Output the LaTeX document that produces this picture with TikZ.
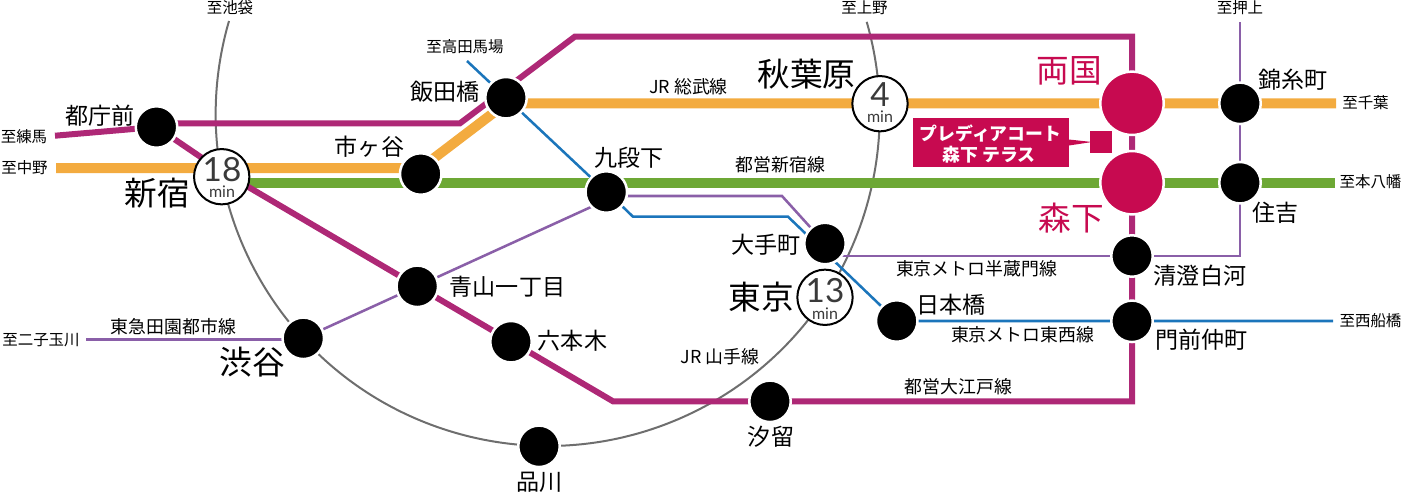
\documentclass[tikz,border=0pt]{standalone}
\usepackage{fontspec}
\setmainfont{Noto Sans CJK JP}
\newfontfamily\numfont{Lato}
\usetikzlibrary{backgrounds}
\definecolor{oedo}{HTML}{AE2876}
\definecolor{sobu}{HTML}{F3AB3F}
\definecolor{shinjuku}{HTML}{6DA835}
\definecolor{hanzo}{HTML}{8A5FA8}
\definecolor{tozai}{HTML}{1B75BB}
\definecolor{yamate}{HTML}{6E6E6E}
\definecolor{accent}{HTML}{C70A50}
\definecolor{numgray}{HTML}{3A3A3A}
\newcommand{\jpsize}[1]{\fontsize{#1}{#1}\selectfont}
\tikzset{
  x=0.75pt,y=-0.75pt,
  station/.style={circle,fill=black,draw=white,line width=1.875pt,minimum size=31.1pt,inner sep=0pt},
  bigstation/.style={circle,fill=accent,draw=white,line width=1.875pt,minimum size=47.5pt,inner sep=0pt},
  timecircle/.style={circle,fill=white,draw=black,line width=1.5pt,minimum size=41.5pt,inner sep=0pt},
  txt/.style={inner sep=0pt,text=black},
  biglbl/.style={txt,font=\jpsize{24.5pt}},
  midlbl/.style={txt,font=\jpsize{17.3pt}},
  linelbl/.style={txt,font=\jpsize{13.4pt}},
  dest/.style={txt,font=\jpsize{11.6pt}},
  numtxt/.style={inner sep=0pt,text=numgray,font=\numfont\jpsize{25pt}},
  mintxt/.style={inner sep=0pt,text=numgray,font=\numfont\jpsize{12pt}},
  oedoline/.style={draw=oedo,line width=4.5pt,line join=miter},
  sobuline/.style={draw=sobu,line width=7.5pt,line join=miter},
  greenline/.style={draw=shinjuku,line width=7.5pt},
  hanzoline/.style={draw=hanzo,line width=1.9pt},
  tozailine/.style={draw=tozai,line width=1.9pt},
  yamateline/.style={draw=yamate,line width=1.5pt},
}
\begin{document}
\begin{tikzpicture}
\useasboundingbox (0,0) rectangle (1403,494);
% stations
\node[station] (tocho) at (156.5,127) {};
\node[station] (ichigaya) at (420.7,174) {};
\node[station] (iidabashi) at (506,97.7) {};
\node[station] (kudan) at (606.3,192) {};
\node[station] (otemachi) at (825,243.5) {};
\node[station] (kinshicho) at (1240,103.3) {};
\node[station] (sumiyoshi) at (1240,182.7) {};
\node[station] (kiyosumi) at (1132,256) {};
\node[station] (monzen) at (1132,321.3) {};
\node[station] (shibuya) at (303.3,338.3) {};
\node[station] (aoyama) at (417.3,286.3) {};
\node[station] (roppongi) at (511,341.7) {};
\node[station] (shiodome) at (770,401.3) {};
\node[station] (shinagawa) at (539,446.3) {};
\node[station] (nihonbashi) at (896.7,321) {};
\node[bigstation] (ryogoku) at (1132,103.3) {};
\node[bigstation] (morishita) at (1132,182.7) {};
\node[timecircle] (shinjukuSt) at (221.7,176.7) {};
\node[timecircle] (akihabara) at (880,103.7) {};
\node[timecircle] (tokyo) at (825,297.3) {};
% free ends and bends
\coordinate (nerimaEnd) at (55,135.7);
\coordinate (nakanoEnd) at (56,168);
\coordinate (sobuTurn) at (421,168);
\coordinate (sobuTurnB) at (506,103.3);
\coordinate (chibaEnd) at (1336,103.3);
\coordinate (yawataEnd) at (1335,182.7);
\coordinate (shinjukuG) at (221.7,182.7);
\coordinate (tochoE) at (156.5,123.3);
\coordinate (oedoA) at (460,123.3);
\coordinate (oedoB) at (575,36.5);
\coordinate (oedoC) at (1132,36.5);
\coordinate (oedoD) at (1132,401.3);
\coordinate (oedoE) at (613,401.3);
\coordinate (oedoS) at (222,171.5);
\coordinate (oshiageEnd) at (1240,22);
\coordinate (hanzoCorner) at (1240,256);
\coordinate (hanzoLeft) at (830,256);
\coordinate (hanzoB) at (782,196);
\coordinate (hanzoC) at (606.3,196);
\coordinate (futakoEnd) at (86,339.7);
\coordinate (shibuyaH) at (303.3,339.7);
\coordinate (kudanP) at (606.3,200);
\coordinate (babaEnd) at (467,61);
\coordinate (tozaiA) at (623,207);
\coordinate (tozaiB) at (633,216.7);
\coordinate (tozaiC) at (788,216.7);
\coordinate (funabashiEnd) at (1333,321);
\coordinate (yamateStart) at (229,21);
% lines
\begin{scope}[on background layer]
  \path[yamateline] (yamateStart) arc[start angle=196.25,end angle=-16.1,radius=332];
  \path[hanzoline] (futakoEnd) -- (shibuyaH);
  \path[hanzoline] (shibuya.center) -- (kudanP);
  \path[hanzoline] (hanzoC) -- (hanzoB) -- (otemachi.center);
  \path[hanzoline] (hanzoLeft) -- (hanzoCorner) -- (oshiageEnd);
  \path[tozailine] (babaEnd) -- (kudan.center) -- (tozaiA) -- (tozaiB) -- (tozaiC) -- (nihonbashi.center) -- (funabashiEnd);
  \path[greenline] (shinjukuG) -- (yawataEnd);
  \path[sobuline] (nakanoEnd) -- (sobuTurn) -- (sobuTurnB) -- (chibaEnd);
  \path[oedoline] (nerimaEnd) -- (tocho.center) -- (oedoS) -- (aoyama.center) -- (oedoE) -- (oedoD) -- (oedoC) -- (oedoB) -- (oedoA) -- (tochoE);
\end{scope}
% times
\node[numtxt] (n18) at (222,170) {18};
\node[mintxt] (m18) at (222,192) {min};
\node[numtxt] (n4) at (880,95) {4};
\node[mintxt] (m4) at (880,117) {min};
\node[numtxt] (n13) at (825,291) {13};
\node[mintxt] (m13) at (825,314) {min};
% big labels
\node[biglbl] (lShinjuku) at (157,193) {新宿};
\node[biglbl] (lAkiba) at (806.5,74) {秋葉原};
\node[biglbl] (lTokyo) at (761,297) {東京};
\node[biglbl] (lShibuya) at (252.5,362) {渋谷};
\node[biglbl,text=accent] (lRyogoku) at (1069,71) {両国};
\node[biglbl,text=accent] (lMorishita) at (1071.5,218) {森下};
% medium labels
\node[midlbl] (lTocho) at (100,116) {都庁前};
\node[midlbl] (lIchigaya) at (369.5,147) {市ヶ谷};
\node[midlbl] (lIida) at (445,92) {飯田橋};
\node[midlbl] (lKudan) at (629,158) {九段下};
\node[midlbl] (lOtemachi) at (766,245) {大手町};
\node[midlbl] (lAoyama) at (507.5,287) {青山一丁目};
\node[midlbl] (lRoppongi) at (572.5,341) {六本木};
\node[midlbl] (lShiodome) at (771,437) {汐留};
\node[midlbl] (lShinagawa) at (539.5,482) {品川};
\node[midlbl] (lNihonbashi) at (951,305) {日本橋};
\node[midlbl] (lKiyosumi) at (1200,276) {清澄白河};
\node[midlbl] (lMonzen) at (1201.5,340) {門前仲町};
\node[midlbl] (lKinshi) at (1293,80) {錦糸町};
\node[midlbl] (lSumi) at (1275.5,213) {住吉};
% line names
\node[linelbl] (lSobu) at (688.5,87) {JR 総武線};
\node[linelbl] (lToei) at (780.5,165) {都営新宿線};
\node[linelbl] (lHanzo) at (976.5,269) {東京メトロ半蔵門線};
\node[linelbl] (lTozai) at (1022.5,335) {東京メトロ東西線};
\node[linelbl] (lOedo) at (958.5,387) {都営大江戸線};
\node[linelbl] (lYamate) at (720,357) {JR 山手線};
\node[linelbl] (lDen) at (173.5,327) {東急田園都市線};
% destinations
\node[dest] (dIke) at (230,8) {至池袋};
\node[dest] (dBaba) at (465,47) {至高田馬場};
\node[dest] (dUeno) at (864.5,8) {至上野};
\node[dest] (dOshi) at (1240,8) {至押上};
\node[dest] (dChiba) at (1365.5,103) {至千葉};
\node[dest] (dYawata) at (1370.5,182) {至本八幡};
\node[dest] (dFuna) at (1370.5,321) {至西船橋};
\node[dest] (dNeri) at (24,137) {至練馬};
\node[dest] (dNaka) at (24.5,168) {至中野};
\node[dest] (dFuta) at (41,340) {至二子玉川};
% callout
\coordinate (boxA) at (913,118);
\coordinate (boxB) at (1069,167);
\coordinate (tipA) at (1069,139.5);
\coordinate (tipB) at (1069,145.5);
\coordinate (tipC) at (1092,142);
\coordinate (sqA) at (1090,131);
\coordinate (sqB) at (1112,153);
\fill[accent] (boxA) rectangle (boxB);
\fill[accent] (tipA) -- (tipC) -- (tipB) -- cycle;
\fill[accent] (sqA) rectangle (sqB);
\node[inner sep=0pt,text=white,font=\bfseries\jpsize{13.4pt}] (c1) at (990.5,133) {プレディアコート};
\node[inner sep=0pt,text=white,font=\bfseries\jpsize{13.4pt}] (c2) at (989,155) {森下 テラス};
\end{tikzpicture}
\end{document}
